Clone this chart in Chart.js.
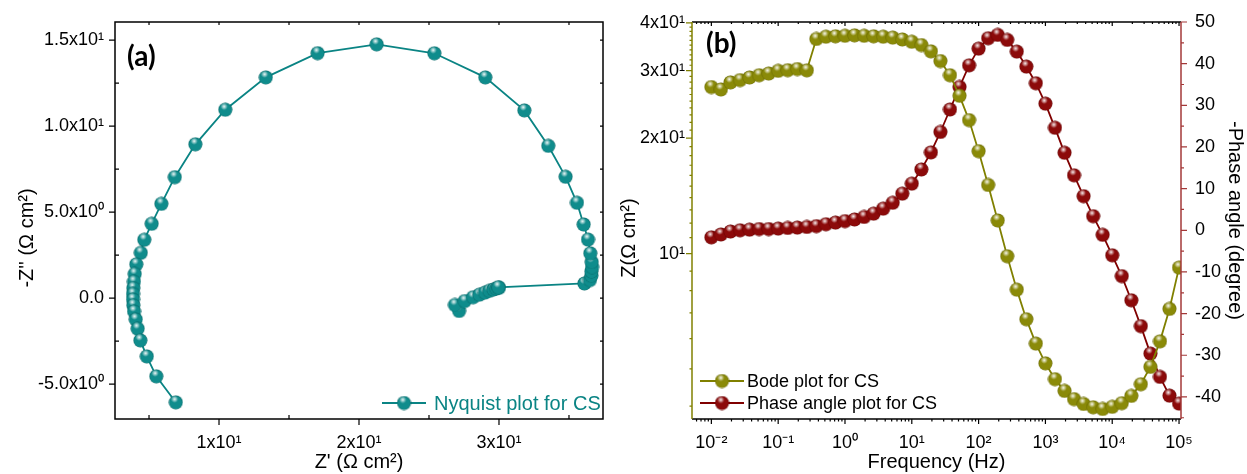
<!DOCTYPE html>
<html>
<head>
<meta charset="utf-8">
<script src="https://cdn.jsdelivr.net/npm/chart.js@4.4.1/dist/chart.umd.min.js"></script>
<style>
  html, body { margin: 0; padding: 0; background: #fff; }
  #wrap { position: relative; width: 1247px; height: 474px; }
  #nyq { position: absolute; left: 0; top: 0; width: 615px; height: 474px; }
  #bode { position: absolute; left: 615px; top: 0; width: 632px; height: 474px; }
</style>
</head>
<body>
<div id="wrap">
  <canvas id="nyq" width="615" height="474"></canvas>
  <canvas id="bode" width="632" height="474"></canvas>
</div>
<script>
// --- data ---
const zReal = [27.15, 26.85, 27.55, 28.15, 28.6, 29.0, 29.3, 29.6, 29.8, 30.0, 29.95,
  36.1, 36.5, 36.6, 36.6, 36.65, 36.62, 36.52, 36.36, 36.05, 35.57, 34.76, 33.52, 31.81,
  29.02, 25.38, 21.26, 17.04, 13.34, 10.45, 8.31, 6.84, 5.88, 5.19, 4.66, 4.41, 4.09,
  3.98, 3.92, 3.88, 3.86, 3.86, 3.88, 3.93, 4.05, 4.19, 4.38, 4.84, 5.52, 6.91];
const zImag = [-0.75, -0.40, -0.17, 0.05, 0.20, 0.32, 0.42, 0.50, 0.55, 0.60, 0.63,
  0.85, 1.05, 1.30, 1.55, 1.80, 2.10, 2.60, 3.40, 4.28, 5.54, 7.05, 8.85, 10.91,
  12.83, 14.23, 14.75, 14.24, 12.83, 10.95, 8.94, 7.03, 5.48, 4.32, 3.39, 2.63, 1.96,
  1.40, 0.95, 0.58, 0.24, -0.08, -0.42, -0.78, -1.24, -1.78, -2.46, -3.39, -4.55, -6.06];

const freq = [0.01, 0.01389, 0.01931, 0.02683, 0.03728, 0.05179, 0.07197,
  0.1, 0.1389, 0.1931, 0.2683, 0.3728, 0.5179, 0.7197,
  1, 1.389, 1.931, 2.683, 3.728, 5.179, 7.197,
  10, 13.89, 19.31, 26.83, 37.28, 51.79, 71.97,
  100, 138.9, 193.1, 268.3, 372.8, 517.9, 719.7,
  1000, 1389, 1931, 2683, 3728, 5179, 7197,
  10000, 13895, 19307, 26827, 37276, 51795, 71969, 100000];
const zMod = [27.2, 26.8, 27.96, 28.35, 28.8, 29.2, 29.5, 29.98, 30.1, 30.3, 30.06,
  36.3, 36.8, 36.9, 37.0, 37.1, 37.0, 36.9, 36.8, 36.6, 36.2, 35.7, 35.0, 33.7, 31.8,
  29.2, 25.8, 22.3, 18.5, 15.1, 12.2, 9.84, 8.05, 6.74, 5.82, 5.17, 4.70, 4.38, 4.17,
  4.05, 3.97, 3.93, 3.98, 4.07, 4.25, 4.56, 5.06, 5.90, 7.17, 9.19];
const phase = [-1.7, -1.0, -0.3, 0.0, 0.15, 0.3, 0.3, 0.4, 0.55, 0.65, 0.8, 1.0, 1.45,
  1.85, 2.2, 2.6, 3.2, 4.0, 5.2, 6.6, 8.8, 11.2, 14.6, 18.7, 23.6, 29.0, 34.4, 39.6,
  43.6, 46.1, 46.9, 45.7, 42.9, 39.3, 35.3, 30.4, 24.6, 18.6, 13.2, 8.2, 3.4, -1.1,
  -6.0, -11.0, -16.8, -23.0, -29.6, -35.2, -39.7, -41.6];

// tick values and labels
const nyqXTicks = [10, 20, 30];
const nyqXLabels = ['1x10¹', '2x10¹', '3x10¹'];
const nyqXMinor = [5, 15, 25, 35];
const nyqYTicks = [-5, 0, 5, 10, 15];
const nyqYLabels = ['-5.0x10⁰', '0.0', '5.0x10⁰', '1.0x10¹', '1.5x10¹'];
const nyqYMinor = [-2.5, 2.5, 7.5, 12.5];

const freqTicks = [0.01, 0.1, 1, 10, 100, 1000, 10000, 100000];
const freqLabels = ['10⁻²', '10⁻¹', '10⁰', '10¹', '10²', '10³', '10⁴', '10⁵'];
const zTicks = [10, 20, 30, 40];
const zLabels = ['10¹', '2x10¹', '3x10¹', '4x10¹'];
const phaseTicks = [-40, -30, -20, -10, 0, 10, 20, 30, 40, 50];
const phaseMinor = [-45, -35, -25, -15, -5, 5, 15, 25, 35, 45];

const freqMinor = [];
[0.001, 0.01, 0.1, 1, 10, 100, 1000, 10000].forEach(d => {
  for (let m = 2; m <= 9; m++) if (d * m > 0.0052) freqMinor.push(d * m);
});
const zMinor = [];
for (let v = 4; v < 40; v++) if (v % 10) zMinor.push(v);

const FONT = '"Liberation Sans", Arial, sans-serif';
const TEAL = '#0a8484';
const OLIVE = '#808000';
const MAROON = '#800000';

function ball(base, rim) {
  const c = document.createElement('canvas');
  c.width = 15; c.height = 15;
  const g = c.getContext('2d');
  const body = g.createRadialGradient(7.5, 8.5, 1, 7.5, 7.5, 7.5);
  body.addColorStop(0, base);
  body.addColorStop(0.75, base);
  body.addColorStop(1, rim);
  g.fillStyle = body;
  g.beginPath(); g.arc(7.5, 7.5, 7, 0, Math.PI * 2); g.fill();
  const hi = g.createRadialGradient(6.3, 4.3, 0, 6.3, 4.3, 3.6);
  hi.addColorStop(0, 'rgba(255,255,255,0.95)');
  hi.addColorStop(1, 'rgba(255,255,255,0)');
  g.fillStyle = hi;
  g.beginPath(); g.arc(7.5, 7.5, 7, 0, Math.PI * 2); g.fill();
  return c;
}
const tealBall = ball('#0f8c8c', '#055858');
const oliveBall = ball('#8a8a08', '#5a5a00');
const maroonBall = ball('#8c0a0a', '#550000');

// ticks drawn along one edge of the plot area; len > 0 points outward
function ticksOn(ctx, scale, values, side, len) {
  const a = scale.chart.chartArea;
  ctx.beginPath();
  values.forEach(v => {
    const p = scale.getPixelForValue(v);
    if (side === 'bottom') { ctx.moveTo(p, a.bottom); ctx.lineTo(p, a.bottom + len); }
    if (side === 'top') { ctx.moveTo(p, a.top); ctx.lineTo(p, a.top - len); }
    if (side === 'left') { ctx.moveTo(a.left, p); ctx.lineTo(a.left - len, p); }
    if (side === 'right') { ctx.moveTo(a.right, p); ctx.lineTo(a.right + len, p); }
  });
  ctx.stroke();
}

function legendRow(ctx, x, y, color, img, text, textColor, size, gap) {
  ctx.strokeStyle = color;
  ctx.lineWidth = 1.8;
  ctx.beginPath(); ctx.moveTo(x, y); ctx.lineTo(x + 44, y); ctx.stroke();
  ctx.drawImage(img, x + 22 - 7.5, y - 7.5);
  ctx.fillStyle = textColor;
  ctx.font = size + 'px ' + FONT;
  ctx.textAlign = 'left';
  ctx.textBaseline = 'middle';
  ctx.fillText(text, x + gap, y + 1);
}

function vTitle(ctx, text, x, y) {
  ctx.save();
  ctx.translate(x, y);
  ctx.rotate(-Math.PI / 2);
  ctx.fillStyle = '#000';
  ctx.font = '20px ' + FONT;
  ctx.textAlign = 'center';
  ctx.textBaseline = 'middle';
  ctx.fillText(text, 0, 0);
  ctx.restore();
}

function panelTag(ctx, text, x, y) {
  ctx.fillStyle = '#000';
  ctx.font = 'bold 28px Lato, "Open Sans", sans-serif';
  ctx.textAlign = 'left';
  ctx.textBaseline = 'middle';
  ctx.fillText(text, x, y);
}

const nyqDecor = {
  id: 'nyqDecor',
  afterDraw(chart) {
    const {ctx, chartArea: a, scales: {x, y}} = chart;
    ctx.save();
    ctx.strokeStyle = '#000';
    ctx.lineWidth = 1.5;
    ctx.strokeRect(a.left, a.top, a.right - a.left, a.bottom - a.top);
    ctx.lineWidth = 1.2;
    ticksOn(ctx, x, nyqXTicks, 'bottom', 6);
    ticksOn(ctx, x, nyqXMinor, 'bottom', -4);
    ticksOn(ctx, x, nyqXTicks.concat(nyqXMinor), 'top', -3);
    ticksOn(ctx, y, nyqYTicks, 'left', 6);
    ticksOn(ctx, y, nyqYMinor, 'left', -4);
    ticksOn(ctx, y, nyqYTicks.concat(nyqYMinor), 'right', -3);
    legendRow(ctx, 382, 403, TEAL, tealBall, 'Nyquist plot for CS', TEAL, 20, 52);
    vTitle(ctx, "-Z'' (Ω cm²)", 27, 238);
    panelTag(ctx, '(a)', 127, 57);
    ctx.restore();
  }
};

const bodeDecor = {
  id: 'bodeDecor',
  afterDraw(chart) {
    const {ctx, chartArea: a, scales: {x, y, y1}} = chart;
    ctx.save();
    ctx.lineWidth = 1.5;
    ctx.strokeStyle = '#000';
    ctx.beginPath();
    ctx.moveTo(a.left, a.top); ctx.lineTo(a.right, a.top);
    ctx.moveTo(a.left, a.bottom); ctx.lineTo(a.right, a.bottom);
    ctx.stroke();
    ctx.lineWidth = 1.2;
    ticksOn(ctx, x, freqTicks, 'bottom', 5);
    ticksOn(ctx, x, freqMinor, 'bottom', 2.5);
    ticksOn(ctx, x, freqTicks, 'top', -4);
    ticksOn(ctx, x, freqMinor, 'top', -2);
    ctx.strokeStyle = OLIVE;
    ctx.lineWidth = 1.5;
    ctx.beginPath(); ctx.moveTo(a.left, a.top); ctx.lineTo(a.left, a.bottom); ctx.stroke();
    ctx.lineWidth = 1.2;
    ticksOn(ctx, y, zTicks, 'left', 6);
    ticksOn(ctx, y, zMinor, 'left', 2.5);
    ctx.strokeStyle = '#a33838';
    ctx.lineWidth = 1.5;
    ctx.beginPath(); ctx.moveTo(a.right, a.top); ctx.lineTo(a.right, a.bottom); ctx.stroke();
    ctx.lineWidth = 1.2;
    ticksOn(ctx, y1, phaseTicks, 'right', 6);
    ticksOn(ctx, y1, phaseMinor, 'right', 3);
    legendRow(ctx, 85, 381, OLIVE, oliveBall, 'Bode plot for CS', '#000', 18, 47);
    legendRow(ctx, 85, 403, MAROON, maroonBall, 'Phase angle plot for CS', '#000', 18, 47);
    vTitle(ctx, 'Z(Ω cm²)', 14, 238);
    panelTag(ctx, '(b)', 91, 44);
    ctx.restore();
  }
};

const tickFont = { family: FONT, size: 18 };
const titleFont = { family: FONT, size: 20 };
const noGrid = { display: false, tickLength: 6 };

new Chart(document.getElementById('nyq'), {
  type: 'scatter',
  data: {
    datasets: [{
      label: 'Nyquist plot for CS',
      data: zReal.map((v, i) => ({ x: v, y: zImag[i] })),
      showLine: true,
      borderColor: TEAL,
      borderWidth: 1.8,
      pointStyle: tealBall,
      pointRadius: 7,
      tension: 0
    }]
  },
  options: {
    responsive: false,
    animation: false,
    layout: { padding: { top: 22, right: 12, left: 0, bottom: 0 } },
    plugins: { legend: { display: false }, tooltip: { enabled: false } },
    scales: {
      x: {
        type: 'linear', min: 2.57, max: 37.43,
        grid: noGrid, border: { display: false },
        afterBuildTicks: s => { s.ticks = nyqXTicks.map(v => ({ value: v })); },
        afterFit: s => { s.height = 55; },
        ticks: { font: tickFont, color: '#000', padding: 7, autoSkip: false, maxRotation: 0,
          callback: (v, i) => nyqXLabels[i] },
        title: { display: true, text: "Z' (Ω cm²)", font: titleFont, color: '#000', padding: { top: 0, bottom: 0 } }
      },
      y: {
        type: 'linear', min: -7.03, max: 16.05,
        grid: noGrid, border: { display: false },
        afterBuildTicks: s => { s.ticks = nyqYTicks.map(v => ({ value: v })); },
        afterFit: s => { s.width = 115; },
        ticks: { font: tickFont, color: '#000', padding: 5, autoSkip: false,
          callback: (v, i) => nyqYLabels[i] }
      }
    }
  },
  plugins: [nyqDecor]
});

new Chart(document.getElementById('bode'), {
  type: 'scatter',
  data: {
    datasets: [{
      label: 'Bode plot for CS',
      data: freq.map((f, i) => ({ x: f, y: zMod[i] })),
      yAxisID: 'y',
      showLine: true,
      borderColor: OLIVE,
      borderWidth: 1.8,
      pointStyle: oliveBall,
      pointRadius: 7,
      tension: 0
    }, {
      label: 'Phase angle plot for CS',
      data: freq.map((f, i) => ({ x: f, y: phase[i] })),
      yAxisID: 'y1',
      showLine: true,
      borderColor: MAROON,
      borderWidth: 1.8,
      pointStyle: maroonBall,
      pointRadius: 7,
      tension: 0
    }]
  },
  options: {
    responsive: false,
    animation: false,
    layout: { padding: { top: 22, right: 0, left: 0, bottom: 0 } },
    plugins: { legend: { display: false }, tooltip: { enabled: false } },
    scales: {
      x: {
        type: 'logarithmic', min: 0.00513, max: 107000,
        grid: noGrid, border: { display: false },
        afterBuildTicks: s => { s.ticks = freqTicks.map(v => ({ value: v })); },
        afterFit: s => { s.height = 55; },
        ticks: { font: tickFont, color: '#000', padding: 7, autoSkip: false, maxRotation: 0,
          callback: (v, i) => freqLabels[i] },
        title: { display: true, text: 'Frequency (Hz)', font: titleFont, color: '#000', padding: { top: 0, bottom: 0 } }
      },
      y: {
        type: 'logarithmic', position: 'left', min: 3.7, max: 40.2,
        grid: noGrid, border: { display: false },
        afterBuildTicks: s => { s.ticks = zTicks.map(v => ({ value: v })); },
        afterFit: s => { s.width = 77; },
        ticks: { font: tickFont, color: '#000', padding: 1, autoSkip: false,
          callback: (v, i) => zLabels[i] }
      },
      y1: {
        type: 'linear', position: 'right', min: -45.3, max: 50,
        grid: noGrid, border: { display: false },
        afterBuildTicks: s => { s.ticks = phaseTicks.map(v => ({ value: v })); },
        afterFit: s => { s.width = 66; },
        ticks: { font: tickFont, color: '#000', padding: 8, autoSkip: false,
          callback: v => String(v) },
        title: { display: true, text: '-Phase angle (degree)', font: titleFont, color: '#000', padding: { top: 0, bottom: 0 } }
      }
    }
  },
  plugins: [bodeDecor]
});
</script>
</body>
</html>
